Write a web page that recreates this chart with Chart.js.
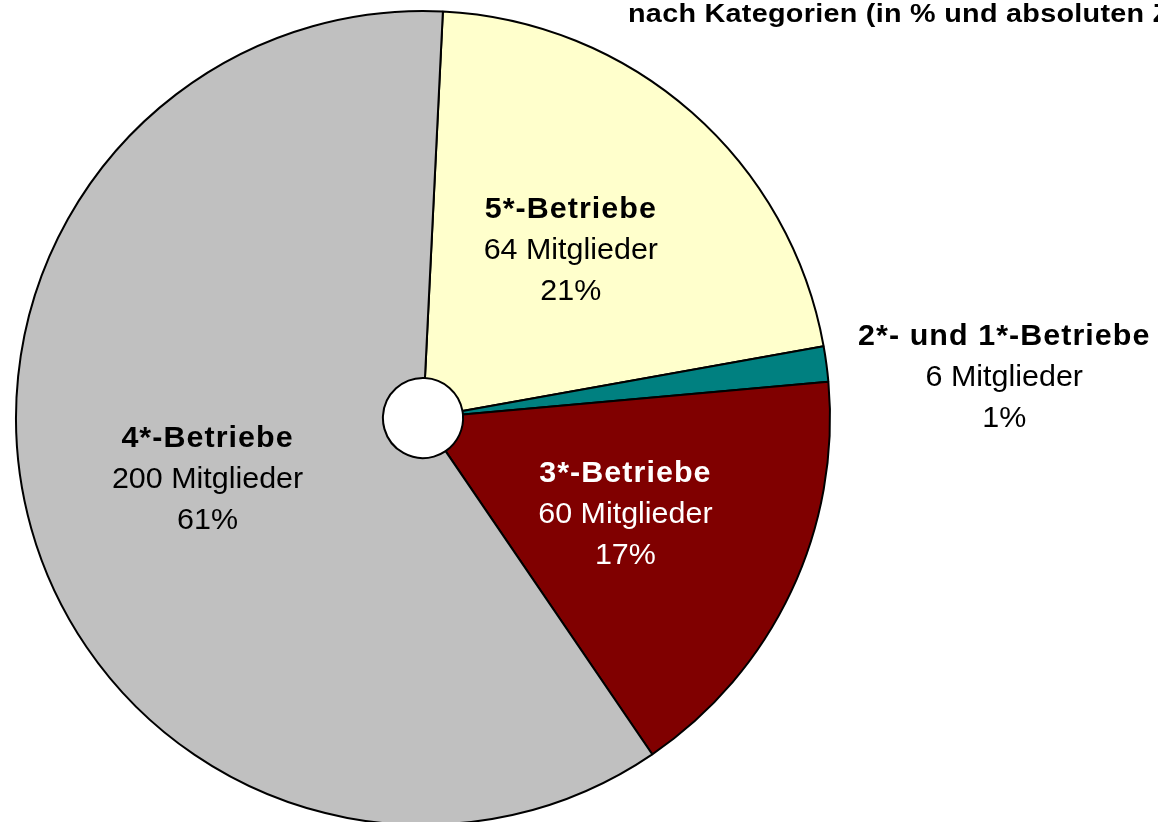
<!DOCTYPE html>
<html>
<head>
<meta charset="utf-8">
<script src="https://cdn.jsdelivr.net/npm/chart.js@4.4.1/dist/chart.umd.min.js"></script>
<style>
  html, body { margin: 0; padding: 0; background: #fff; overflow: hidden; }
  #wrap { width: 1158px; height: 830px; }
</style>
</head>
<body>
<div id="wrap"><canvas id="pie-chart" width="1158" height="830"></canvas></div>
<script>
const categories = ["5*-Betriebe", "2*- und 1*-Betriebe", "3*-Betriebe", "4*-Betriebe"];
const members = [64, 6, 60, 200];
const percentLabels = ["21%", "1%", "17%", "61%"];
// slice sizes as they are drawn in the picture (in %)
const sliceShares = [21.4, 1.4, 16.9, 60.3];
const titleText = "nach Kategorien (in % und absoluten Zahlen)";

const sliceColors = ["#FFFFCC", "#008080", "#800000", "#C0C0C0"];
const textColors = ["#000000", "#000000", "#ffffff", "#000000"];
const outsideLabel = [false, true, false, false];

const FONT = '"Liberation Sans", Arial, sans-serif';

function drawText(ctx, text, x, y, font, spacing, stretch) {
  ctx.save();
  ctx.font = font;
  ctx.letterSpacing = spacing + 'px';
  ctx.translate(x, y);
  ctx.scale(stretch, 1);
  ctx.fillText(text, 0, 0);
  ctx.restore();
}

function textWidth(ctx, text, font, spacing, stretch) {
  ctx.save();
  ctx.font = font;
  ctx.letterSpacing = spacing + 'px';
  const w = ctx.measureText(text).width * stretch;
  ctx.restore();
  return w;
}

const sliceLabels = {
  id: 'sliceLabels',
  afterDatasetsDraw(chart) {
    const ctx = chart.ctx;
    const arcs = chart.getDatasetMeta(0).data;
    const bold = 'bold 29px ' + FONT;
    const normal = '29px ' + FONT;
    const lineH = 41;
    arcs.forEach((arc, i) => {
      const p = arc.getProps(['x', 'y', 'startAngle', 'endAngle', 'outerRadius'], true);
      const mid = (p.startAngle + p.endAngle) / 2;
      let cx, cy;
      if (outsideLabel[i]) {
        const r = p.outerRadius + 32;
        cx = p.x + Math.cos(mid) * r + textWidth(ctx, categories[i], bold, 1, 1.05) / 2;
        cy = p.y + Math.sin(mid) * r + 18;
      } else {
        const r = p.outerRadius * 0.55;
        cx = p.x + Math.cos(mid) * r;
        cy = p.y + Math.sin(mid) * r + 1;
      }
      ctx.save();
      ctx.fillStyle = textColors[i];
      ctx.textAlign = 'center';
      ctx.textBaseline = 'middle';
      drawText(ctx, categories[i], cx, cy - lineH, bold, 1, 1.05);
      drawText(ctx, members[i] + ' Mitglieder', cx, cy, normal, 0, 1.05);
      drawText(ctx, percentLabels[i], cx, cy + lineH, normal, 0, 1.05);
      ctx.restore();
    });

    ctx.save();
    ctx.fillStyle = '#000';
    ctx.textAlign = 'left';
    ctx.textBaseline = 'alphabetic';
    drawText(ctx, titleText, 628, 22, 'bold 25px ' + FONT, 0.25, 1.15);
    ctx.restore();
  }
};

const ctx = document.getElementById('pie-chart');
const pieChart = new Chart(ctx, {
  type: 'doughnut',
  data: {
    labels: categories,
    datasets: [{
      data: sliceShares,
      backgroundColor: sliceColors,
      borderColor: '#000000',
      borderWidth: 2,
      hoverBorderWidth: 2,
      hoverOffset: 0
    }]
  },
  options: {
    responsive: false,
    animation: false,
    events: [],
    rotation: 2.8,
    radius: 407,
    cutout: 40,
    layout: { padding: { left: 16, top: 11, right: 328, bottom: 5 } },
    plugins: {
      legend: { display: false },
      tooltip: { enabled: false }
    }
  },
  plugins: [sliceLabels]
});
</script>
</body>
</html>
